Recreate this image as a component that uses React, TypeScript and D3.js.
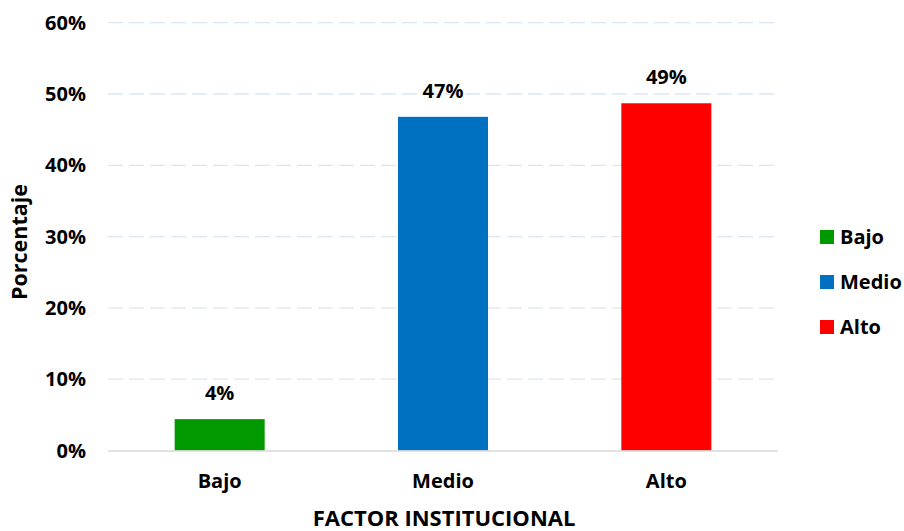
import { useEffect, useRef } from 'react'
import * as d3 from 'd3'

const categories = ['Bajo', 'Medio', 'Alto']
const values = [4.4, 46.8, 48.7]
const labels = ['4%', '47%', '49%']
const colors = ['#009900', '#0070C0', '#FF0000']
const yTicks = [0, 10, 20, 30, 40, 50, 60]

const FONT = "'Open Sans', 'Liberation Sans', sans-serif"

export default function App() {
    const svgRef = useRef<SVGSVGElement | null>(null)

    useEffect(() => {
        if (!svgRef.current) return
        const svg = d3.select(svgRef.current)
        svg.selectAll('*').remove()

        const left = 108, right = 778, top = 22.7, bottom = 450.5

        const x = d3.scaleBand().domain(categories).range([left, right]).paddingInner(0.597).paddingOuter(0.2985)
        const y = d3.scaleLinear().domain([0, 60]).range([bottom, top])

        const txt = (sel: any, size: number) => sel
            .attr('font-family', FONT)
            .attr('font-weight', 700)
            .attr('font-size', size)
            .attr('fill', '#000')

        // gridlines
        svg.append('g')
            .selectAll('line')
            .data(yTicks.filter(t => t > 0))
            .enter().append('line')
            .attr('x1', left).attr('x2', right)
            .attr('y1', d => y(d)).attr('y2', d => y(d))
            .attr('stroke', '#dce6f2')
            .attr('stroke-width', 1.3)
            .attr('stroke-dasharray', '15,6')

        // y tick labels
        svg.append('g')
            .selectAll('text')
            .data(yTicks)
            .enter().append('text')
            .attr('x', 86).attr('y', d => y(d))
            .attr('dy', '0.35em')
            .attr('text-anchor', 'end')
            .call(txt, 20)
            .text(d => `${d}%`)

        // bars
        svg.append('g')
            .selectAll('rect')
            .data(categories)
            .enter().append('rect')
            .attr('x', d => x(d)!)
            .attr('width', x.bandwidth())
            .attr('y', (_, i) => y(values[i]))
            .attr('height', (_, i) => bottom - y(values[i]))
            .attr('fill', (_, i) => colors[i])

        // zero line
        svg.append('line')
            .attr('x1', left).attr('x2', right)
            .attr('y1', bottom + 0.5).attr('y2', bottom + 0.5)
            .attr('stroke', '#d9d9d9')
            .attr('stroke-width', 1.5)

        // value labels
        svg.append('g')
            .selectAll('text')
            .data(categories)
            .enter().append('text')
            .attr('x', d => x(d)! + x.bandwidth() / 2)
            .attr('y', (_, i) => y(values[i]) - 19)
            .attr('text-anchor', 'middle')
            .call(txt, 20)
            .text((_, i) => labels[i])

        // category labels
        svg.append('g')
            .selectAll('text')
            .data(categories)
            .enter().append('text')
            .attr('x', d => x(d)! + x.bandwidth() / 2)
            .attr('y', 488)
            .attr('text-anchor', 'middle')
            .call(txt, 20)
            .text(d => d)

        // axis titles
        svg.append('text')
            .attr('x', (left + right) / 2 + 1)
            .attr('y', 526)
            .attr('text-anchor', 'middle')
            .call(txt, 22)
            .text('FACTOR INSTITUCIONAL')

        svg.append('text')
            .attr('transform', 'translate(27,242) rotate(-90)')
            .attr('text-anchor', 'middle')
            .call(txt, 21.5)
            .text('Porcentaje')

        // legend
        const lg = svg.append('g')
            .selectAll('g')
            .data(categories)
            .enter().append('g')
            .attr('transform', (_, i) => `translate(820,${237 + i * 45})`)
        lg.append('rect')
            .attr('x', 0).attr('y', -7)
            .attr('width', 14).attr('height', 14)
            .attr('fill', (_, i) => colors[i])
        lg.append('text')
            .attr('x', 20).attr('dy', '0.35em')
            .call(txt, 20)
            .text(d => d)
    }, [])

    return (
        <svg ref={svgRef} width={904} height={531}
            style={{ position: 'absolute', left: 0, top: 0, background: '#fff' }} />
    )
}
